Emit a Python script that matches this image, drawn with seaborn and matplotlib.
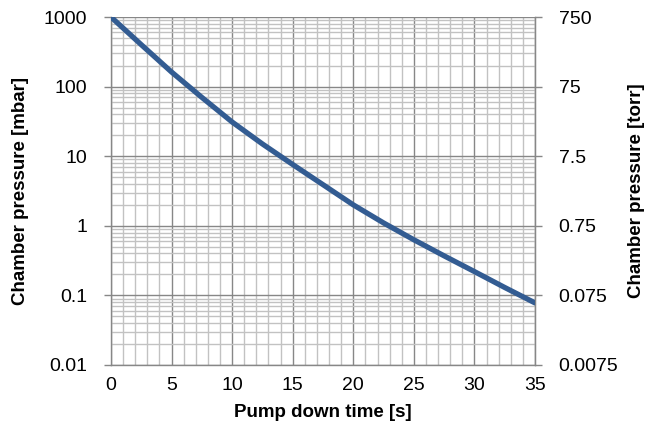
import numpy as np
import pandas as pd
import seaborn as sns
import matplotlib.pyplot as plt
from matplotlib.ticker import FixedLocator, NullFormatter, MultipleLocator

# pump down curve
time_s = [0, 2.5, 5, 7.5, 10, 12.5, 15, 17.5, 20, 22.5, 25, 27.5, 30, 32.5, 35]
pressure_mbar = [1000, 400, 162, 70, 31, 15, 7.6, 3.9, 2.0, 1.1, 0.63, 0.37, 0.22, 0.13, 0.078]

mbar_ticks = [0.01, 0.1, 1, 10, 100, 1000]
mbar_labels = ["0.01", "0.1", "1", "10", "100", "1000"]
torr_ticks = [0.0075, 0.075, 0.75, 7.5, 75, 750]
torr_labels = ["0.0075", "0.075", "0.75", "7.5", "75", "750"]

df = pd.DataFrame({"time": time_s, "pressure": pressure_mbar})

sns.set_style("white")
plt.rcParams["font.family"] = ["Liberation Sans", "DejaVu Sans"]

fig = plt.figure(figsize=(6.51, 4.34), dpi=100)
ax = fig.add_axes([0.1705, 0.159, 0.6513, 0.8018])

sns.lineplot(data=df, x="time", y="pressure", ax=ax, color="#335C92",
             linewidth=3.8, zorder=5)

ax.set_yscale("log")
ax.set_xlim(0, 35)
ax.set_ylim(0.01, 1000)

ax.xaxis.set_major_locator(MultipleLocator(5))
ax.xaxis.set_minor_locator(MultipleLocator(1))
ax.yaxis.set_major_locator(FixedLocator(mbar_ticks))
ax.set_yticklabels(mbar_labels)
minor_y = [m * 10.0 ** e for e in range(-2, 3) for m in range(2, 10)]
ax.yaxis.set_minor_locator(FixedLocator(minor_y))
ax.yaxis.set_minor_formatter(NullFormatter())

ax.grid(which="major", color="#878787", linewidth=1.0)
ax.grid(which="minor", color="#c2c2c2", linewidth=1.0)
ax.set_axisbelow(True)

ax.spines["top"].set_visible(False)
for side in ["left", "bottom", "right"]:
    ax.spines[side].set_color("#878787")
    ax.spines[side].set_linewidth(1.0)

ax.tick_params(which="major", direction="out", length=5, width=1,
               color="#878787", labelsize=14, labelcolor="black", pad=4)
ax.tick_params(axis="y", which="major", pad=12)
ax.tick_params(which="minor", length=0)

ax.set_xlabel("Pump down time [s]", fontsize=13.5, fontweight="bold",
              labelpad=7, color="black")
ax.set_ylabel("Chamber pressure [mbar]", fontsize=13.5, fontweight="bold",
              labelpad=11, color="black")

ax2 = ax.twinx()
ax2.set_yscale("log")
ax2.set_ylim(0.0075, 750)
ax2.yaxis.set_major_locator(FixedLocator(torr_ticks))
ax2.set_yticklabels(torr_labels)
ax2.yaxis.set_minor_locator(FixedLocator([]))
ax2.tick_params(which="major", direction="out", length=5, width=1,
                color="#878787", labelsize=14, labelcolor="black", pad=12)
for side in ["top", "left", "bottom"]:
    ax2.spines[side].set_visible(False)
ax2.spines["right"].set_color("#878787")
ax2.set_ylabel("Chamber pressure [torr]", fontsize=13.5, fontweight="bold",
               labelpad=7, rotation=90, color="black")

fig.savefig("out.png", dpi=100)
